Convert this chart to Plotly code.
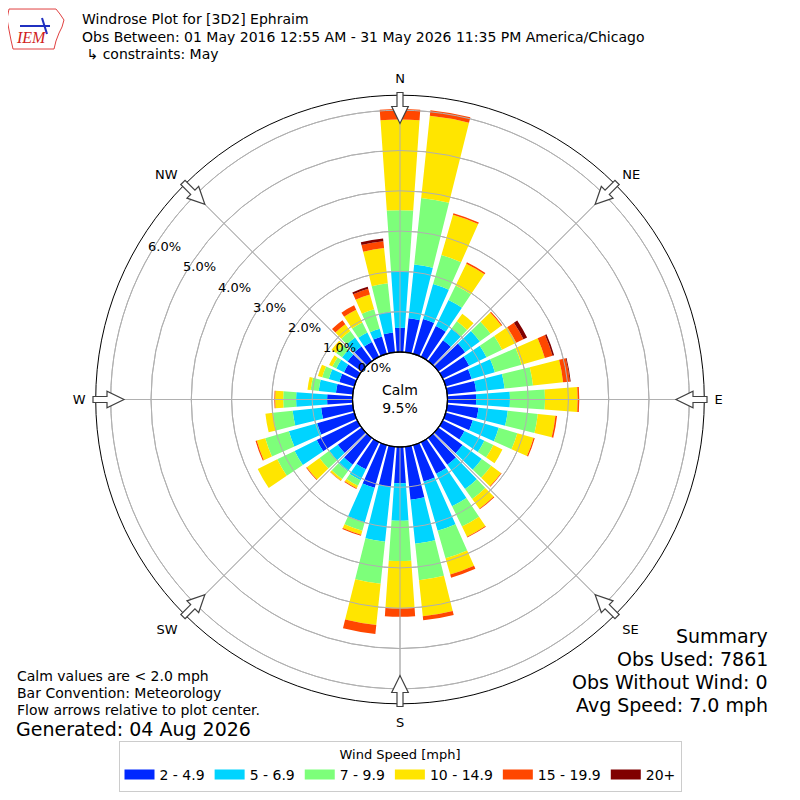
import numpy as np
import plotly.graph_objects as go

# Direções (graus, convenção meteorológica) e frequências (%) por faixa de velocidade
direcoes = list(range(0, 360, 10))
faixas = ["2 - 4.9", "5 - 6.9", "7 - 9.9", "10 - 14.9", "15 - 19.9", "20+"]
cores = ["#0028ff", "#00d4ff", "#7dff7a", "#ffe500", "#ff4700", "#800000"]

v_2_5 = [0.60, 0.85, 0.90, 0.85, 0.64, 0.82, 0.73, 0.67, 0.72, 0.71, 0.78, 0.70,
         0.60, 0.74, 0.82, 0.87, 0.94, 1.32, 0.90, 1.00, 1.10, 0.75, 0.82, 0.73,
         1.12, 0.96, 0.79, 0.63, 0.42, 0.39, 0.37, 0.43, 0.45, 0.41, 0.45, 0.49]
v_5_7 = [1.41, 1.34, 0.90, 0.72, 0.35, 0.45, 0.48, 0.60, 0.71, 0.84, 0.73, 0.67,
         0.55, 0.59, 0.75, 0.90, 1.27, 1.10, 0.93, 1.37, 0.89, 0.30, 0.20, 0.26,
         0.61, 0.73, 0.71, 0.77, 0.43, 0.27, 0.21, 0.17, 0.27, 0.26, 0.20, 0.52]
v_7_10 = [1.51, 1.66, 0.75, 0.40, 0.23, 0.33, 0.43, 0.69, 0.71, 0.87, 0.75, 0.48,
          0.25, 0.29, 0.30, 0.56, 0.71, 0.91, 1.00, 1.05, 0.22, 0.15, 0.24, 0.30,
          0.48, 0.61, 0.49, 0.32, 0.20, 0.17, 0.11, 0.18, 0.20, 0.28, 0.50, 0.71]
v_10_15 = [2.25, 2.05, 1.04, 0.60, 0.23, 0.33, 0.39, 0.60, 0.75, 0.81, 0.44, 0.42,
           0.25, 0.30, 0.30, 0.28, 0.42, 0.90, 1.18, 1.03, 0.10, 0.07, 0.05, 0.39,
           0.54, 0.22, 0.19, 0.20, 0.08, 0.11, 0.09, 0.14, 0.21, 0.35, 0.38, 0.88]
v_15_20 = [0.26, 0.14, 0.04, 0.04, 0.00, 0.03, 0.20, 0.20, 0.17, 0.04, 0.04, 0.03,
           0.00, 0.02, 0.02, 0.02, 0.08, 0.10, 0.20, 0.22, 0.03, 0.02, 0.01, 0.02,
           0.00, 0.03, 0.00, 0.02, 0.00, 0.00, 0.00, 0.00, 0.12, 0.12, 0.15, 0.17]
v_20 = [0.00, 0.00, 0.00, 0.00, 0.00, 0.00, 0.10, 0.04, 0.02, 0.00, 0.00, 0.00,
        0.00, 0.00, 0.00, 0.00, 0.00, 0.00, 0.00, 0.00, 0.00, 0.00, 0.00, 0.00,
        0.00, 0.00, 0.00, 0.00, 0.00, 0.00, 0.00, 0.00, 0.00, 0.00, 0.05, 0.07]
series = [v_2_5, v_5_7, v_7_10, v_10_15, v_15_20, v_20]

rotulos_r = [0, 1, 2, 3, 4, 5, 6]
pontos = ["N", "NE", "E", "SE", "S", "SW", "W", "NW"]
calmo = 9.5

FONTE = "DejaVu Sans"
# geometria em pixels da página (o body do html tem margem de 8px)
W = 784
CX, CY, R_EXT, R_FURO = 400, 399.5, 304.3, 47.5
PX_POR_PCT = 40.3
CINZA = "#b0b0b0"


def xp(px):
    return (px - 8) / W


def yp(py):
    return 1 - (py - 8) / W


fig = go.Figure()
for nome, cor, vals in zip(faixas, cores, series):
    fig.add_trace(go.Barpolar(r=vals, theta=direcoes, name=nome, width=8, showlegend=False,
                              marker=dict(color=cor, line=dict(width=0))))
# entradas de legenda retangulares
for nome, cor in zip(faixas, cores):
    fig.add_trace(go.Scatterpolar(r=[None], theta=[None], mode="lines", name=nome,
                                  line=dict(color=cor, width=10), hoverinfo="skip"))

shapes = []
# grade por cima das barras (como no matplotlib)
for v in rotulos_r[1:]:
    rr = R_FURO + v * PX_POR_PCT
    shapes.append(dict(type="circle", xref="paper", yref="paper", layer="above",
                       x0=xp(CX - rr), x1=xp(CX + rr), y0=yp(CY + rr), y1=yp(CY - rr),
                       line=dict(color=CINZA, width=1), fillcolor="rgba(0,0,0,0)"))
for a in range(0, 360, 45):
    t = np.radians(a)
    shapes.append(dict(type="line", xref="paper", yref="paper", layer="above",
                       x0=xp(CX + R_FURO * np.sin(t)), y0=yp(CY - R_FURO * np.cos(t)),
                       x1=xp(CX + R_EXT * np.sin(t)), y1=yp(CY - R_EXT * np.cos(t)),
                       line=dict(color=CINZA, width=1)))


# Setas ocas nas 8 direções
def seta(ang):
    a = np.radians(ang)
    ux, uy = np.sin(a), -np.cos(a)
    px, py = np.cos(a), np.sin(a)
    pts = [(307, -3), (293, -3), (293, -8.3), (276, 0), (293, 8.3), (293, 3), (307, 3)]
    s = ""
    for i, (r, w) in enumerate(pts):
        s += ("M" if i == 0 else "L") + f"{xp(CX + r * ux + w * px):.5f},{yp(CY + r * uy + w * py):.5f} "
    return s + "Z"


shapes += [dict(type="path", path=seta(a), xref="paper", yref="paper",
                fillcolor="white", line=dict(color="#404040", width=1.2))
           for a in range(0, 360, 45)]
shapes.append(dict(type="circle", xref="paper", yref="paper",
                   x0=xp(CX - R_FURO), x1=xp(CX + R_FURO), y0=yp(CY + R_FURO), y1=yp(CY - R_FURO),
                   line=dict(color="black", width=1.3), fillcolor="rgba(0,0,0,0)"))
# contorno aproximado do logo IEM
logo = [(9, 9), (56, 9), (60, 14), (64, 20), (62, 27), (59, 33), (56, 41), (54, 49),
        (13, 49), (11, 40), (9, 30), (7, 19)]
shapes.append(dict(type="path", xref="paper", yref="paper",
                   path="M" + " L".join(f"{xp(a):.4f},{yp(b):.4f}" for a, b in logo) + " Z",
                   line=dict(color="#e04040", width=1), fillcolor="rgba(0,0,0,0)"))
shapes.append(dict(type="line", xref="paper", yref="paper", x0=xp(20), x1=xp(50), y0=yp(26), y1=yp(26),
                   line=dict(color="#2030c0", width=2)))
shapes.append(dict(type="line", xref="paper", yref="paper", x0=xp(42), x1=xp(47), y0=yp(18), y1=yp(34),
                   line=dict(color="#2030c0", width=2)))


def texto(t, x, y, size, anchor="left", family=FONTE, color="black"):
    return dict(text=t, x=xp(x), y=yp(y), xanchor=anchor, yanchor="middle", showarrow=False,
                xref="paper", yref="paper", font=dict(family=family, size=size, color=color))


annotations = [
    texto("<i>IEM</i>", 31, 38, 16, "center", "Liberation Serif", "#d02020"),
    texto("Windrose Plot for [3D2] Ephraim", 80, 19, 14),
    texto("Obs Between: 01 May 2016 12:55 AM - 31 May 2026 11:35 PM America/Chicago", 80, 37, 14),
    texto(" ↳ constraints: May", 80, 54, 14),
    texto(f"Calm<br>{calmo}%", CX, CY, 14, "center"),
]
for i, t in enumerate(["Calm values are < 2.0 mph", "Bar Convention: Meteorology",
                       "Flow arrows relative to plot center."]):
    annotations.append(texto(t, 15, 676 + 17 * i, 14))
annotations.append(texto("Generated: 04 Aug 2026", 14, 729, 19))
for i, t in enumerate(["Summary", "Obs Used: 7861", "Obs Without Wind: 0", "Avg Speed: 7.0 mph"]):
    annotations.append(texto(t, 770, 636 + 23 * i, 19, "right"))

# rótulos do eixo radial (ao longo de 150°, deslocados como no matplotlib)
ang_r = np.radians(150)
for v in rotulos_r:
    rr = R_FURO + v * PX_POR_PCT
    annotations.append(texto(f"{v:.1f}%", CX + rr * np.cos(ang_r) + 15.5, CY - rr * np.sin(ang_r) - 8,
                             13, "center"))

fig.update_layout(
    width=W, height=W, margin=dict(l=0, r=0, t=0, b=0),
    paper_bgcolor="white", plot_bgcolor="white",
    font=dict(family=FONTE, size=13, color="black"),
    polar=dict(
        domain=dict(x=[xp(CX - R_EXT), xp(CX + R_EXT)], y=[yp(CY + R_EXT), yp(CY - R_EXT)]),
        hole=R_FURO / R_EXT, bgcolor="white", barmode="stack",
        radialaxis=dict(range=[0, (R_EXT - R_FURO) / PX_POR_PCT], tickvals=rotulos_r,
                        showticklabels=False, angle=150,
                        showline=False, ticks="", gridcolor=CINZA, gridwidth=1),
        angularaxis=dict(direction="clockwise", rotation=90, tickvals=list(range(0, 360, 45)),
                         ticktext=pontos, showline=True, linecolor="black", linewidth=1,
                         gridcolor=CINZA, gridwidth=1, ticks="outside", ticklen=7,
                         tickcolor="rgba(0,0,0,0)", tickfont=dict(family=FONTE, size=13, color="black")),
    ),
    legend=dict(orientation="h", x=xp(400), xanchor="center", y=yp(741), yanchor="top",
                bgcolor="white", bordercolor="#cccccc", borderwidth=1,
                font=dict(family=FONTE, size=14, color="black"),
                title=dict(text="Wind Speed [mph]", side="top center", font=dict(family=FONTE, size=13)),
                itemwidth=30, traceorder="normal"),
    shapes=shapes, annotations=annotations,
)

fig.write_html("out.html")
